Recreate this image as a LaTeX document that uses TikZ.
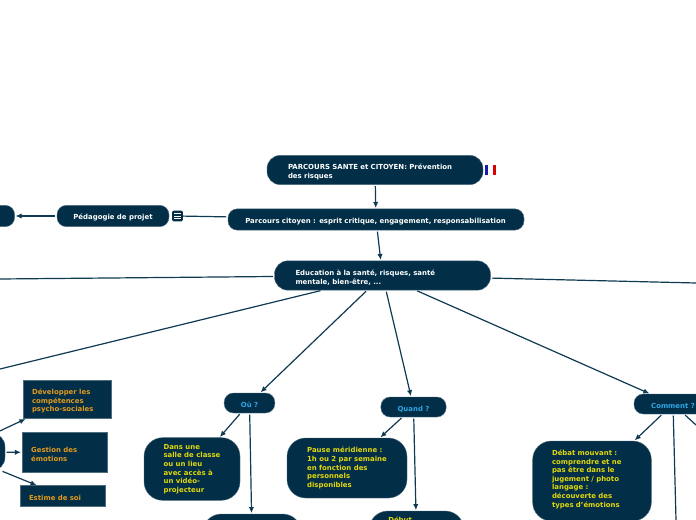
\documentclass[tikz,border=0pt]{standalone}
\usepackage{fontspec}
\setmainfont{DejaVu Sans}
\usepackage{tikz}
\usetikzlibrary{arrows.meta,positioning}
\definecolor{navy}{HTML}{022F47}
\definecolor{edgeblue}{HTML}{0E3A52}
\definecolor{skyblue}{HTML}{2FA6E6}
\definecolor{topicyellow}{HTML}{E3D80A}
\definecolor{topicorange}{HTML}{E39A1C}
\tikzset{
  px/.style={x=0.75pt,y=-0.75pt},
  mapbox/.style={fill=navy, draw=navy!70!white, line width=0.3pt, rounded corners=#1, inner sep=0pt, font=\bfseries\fontsize{5.2}{6.4}\selectfont, align=left, execute at begin node={\rule{0pt}{7pt}}},
  mapbox/.default=8pt,
  plain/.style={draw=edgeblue, line width=0.9pt, shorten <=1pt},
  link/.style={plain, -{Latex[length=4.5pt,width=4pt]}, shorten >=0.5pt}
}
\begin{document}
\begin{tikzpicture}[px, >=Latex]
\useasboundingbox[fill=white] (0,0) rectangle (696,520);
% main spine
\node (title) [mapbox=10pt, minimum width=162pt, minimum height=22pt, text width=130.5pt, text=white] at (375,170) {PARCOURS SANTE et CITOYEN: Prévention\\[0.4pt]des risques};
\node (citizen) [mapbox=7pt, minimum width=222pt, minimum height=16pt, text width=196pt, text=white] at (376,219.5) {Parcours citoyen : esprit critique, engagement, responsabilisation};
\node (health) [mapbox=10pt, minimum width=162pt, minimum height=22pt, text width=130.5pt, text=white] at (382.5,275.5) {Education à la santé, risques, santé\\[0.4pt]mentale, bien-être, ...};
\node (project) [mapbox=7pt, minimum width=84pt, minimum height=16pt, align=center, text=white] at (113,216) {Pédagogie de projet};
\node (cutleft) [mapbox=7pt, minimum width=40pt, minimum height=16pt] at (-12,216) {};
\node (menu) [fill=navy, rounded corners=1pt, minimum size=8pt, inner sep=0pt] at (177.5,216) {};
\draw[white, line width=0.4pt] (174.3,213.5) -- (180.7,213.5) (174.3,216) -- (180.7,216) (174.3,218.5) -- (180.7,218.5);
% flag
\fill[blue!65!black!90!white] (485,165) rectangle (488,175);
\fill[white] (488,165) rectangle (492.5,175);
\fill[red!85!black] (492.5,165) rectangle (496,175);
% questions
\node (where) [mapbox=7pt, minimum width=38pt, minimum height=15pt, align=center, text=skyblue] at (249.5,403) {Où ?};
\node (when) [mapbox=7pt, minimum width=49pt, minimum height=15pt, align=center, text=skyblue] at (413.5,407) {Quand ?};
\node (how) [mapbox=7pt, minimum width=58.5pt, minimum height=15pt, align=center, text=skyblue] at (673,404) {Comment ?};
% answers
\node (room) [mapbox=14pt, minimum width=72pt, minimum height=47pt, text=topicyellow] at (192,469) {Dans une\\salle de classe\\ou un lieu\\avec accès à\\un vidéo-\\projecteur};
\node (roomtwo) [mapbox=14pt, minimum width=74pt, minimum height=36pt] at (252,538) {};
\node (lunch) [mapbox=14pt, minimum width=90pt, minimum height=45pt, text=topicyellow] at (347,468) {Pause méridienne :\\1h ou 2 par semaine\\en fonction des\\personnels\\disponibles};
\node (start) [mapbox=14pt, minimum width=71pt, minimum height=36pt] at (416.5,535) {};
\node (startlabel) [anchor=west, inner sep=0pt, font=\bfseries\fontsize{5.2}{6.4}\selectfont, text=topicyellow] at (388,520) {Début};
\node (debate) [mapbox=14pt, minimum width=89pt, minimum height=60pt, text width=60pt, text=topicyellow] at (592,481) {Débat mouvant :\\comprendre et ne\\pas être dans le\\jugement / photo\\langage :\\découverte des\\types d'émotions\\\mbox{}};
% left topics
\node (skills) [mapbox=0pt, minimum width=66pt, minimum height=28.5pt, text width=52.5pt, text=topicorange] at (67,399.5) {Développer les\\compétences\\psycho-sociales};
\node (emotions) [mapbox=0pt, minimum width=64pt, minimum height=30pt, text width=50pt, text=topicorange] at (64.5,452.5) {Gestion des\\émotions};
\node (esteem) [mapbox=0pt, minimum width=64pt, minimum height=15.5pt, text width=51pt, text=topicorange] at (63,496) {Estime de soi};
\node (why) [mapbox=10pt, minimum width=75pt, minimum height=28pt] at (-45,452) {};
% off-canvas ends
\coordinate (farleft) at (0,279);
\coordinate (farright) at (696,283);
\coordinate (leftdown) at (0,369);
\coordinate (howright) at (696,425);
\coordinate (howdown) at (676,520);
% connectors
\draw[link] (title) -- (citizen);
\draw[link] (citizen) -- (health);
\draw[plain] (citizen) -- (menu);
\draw[link] (project) -- (cutleft);
\draw[plain] (health) -- (farleft);
\draw[plain] (health) -- (farright);
\draw[plain] (health) -- (leftdown);
\draw[link] (health) -- (where);
\draw[link] (health) -- (when);
\draw[link] (health) -- (how);
\draw[link] (where) -- (room);
\draw[link] (where) -- (roomtwo);
\draw[link] (when) -- (lunch);
\draw[link] (when) -- (start);
\draw[link] (how) -- (debate);
\draw[plain] (how) -- (howdown);
\draw[plain] (how) -- (howright);
\draw[link] (why) -- (skills);
\draw[link] (why) -- (emotions);
\draw[link] (why) -- (esteem);
\end{tikzpicture}
\end{document}
